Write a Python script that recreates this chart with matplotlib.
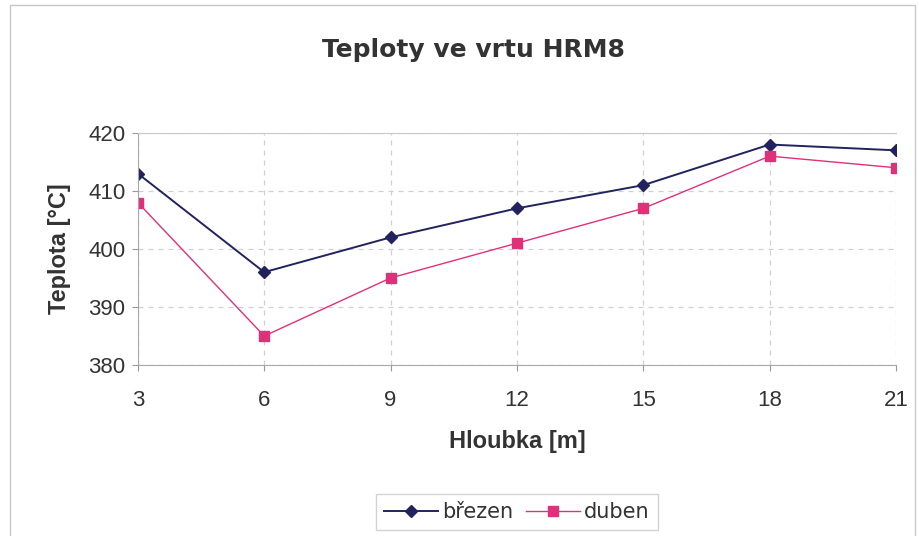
import matplotlib.pyplot as plt
from matplotlib.patches import Rectangle

hloubka = [3, 6, 9, 12, 15, 18, 21]
brezen = [413, 396, 402, 407, 411, 418, 417]
duben = [408, 385, 395, 401, 407, 416, 414]

plt.rcParams['font.family'] = ['Liberation Sans', 'DejaVu Sans']

fig = plt.figure(figsize=(9.19, 5.36), dpi=100)
ax = fig.add_axes([0.150, 0.319, 0.825, 0.433])

# rameček kolem celého grafu
fig.patches.append(Rectangle((0.011, -0.01), 0.985, 1.0, transform=fig.transFigure,
                             fill=False, edgecolor="#c8c8c8", linewidth=1))

ax.plot(hloubka, brezen, color="#22225e", marker="D", markersize=6.5,
        linewidth=1.4, label="březen")
ax.plot(hloubka, duben, color="#e0307a", marker="s", markersize=6.5,
        linewidth=1.0, label="duben")

ax.set_xlim(3, 21)
ax.set_ylim(380, 420)
ax.set_xticks(hloubka)
ax.set_yticks(range(380, 421, 10))
ax.tick_params(labelsize=16, length=4, color="#999999", labelcolor="#333333")
ax.tick_params(axis="x", pad=14)
ax.tick_params(axis="y", pad=5)

ax.grid(True, linestyle=(0, (4, 4)), color="#d0d0d0", linewidth=0.9)
for s in ax.spines.values():
    s.set_color("#a8a8a8")
ax.spines["top"].set_color("#c8c8c8")
ax.spines["right"].set_visible(False)

fig.text(473 / 919, 1 - 50 / 536, "Teploty ve vrtu HRM8", fontsize=18,
         fontweight="bold", color="#333333", ha="center", va="center",
         family=["DejaVu Sans"])
ax.set_xlabel("Hloubka [m]", fontsize=17, fontweight="bold", color="#333333", labelpad=14)
ax.set_ylabel("Teplota [°C]", fontsize=17, fontweight="bold", color="#333333", labelpad=12)

leg = fig.legend(loc="center", bbox_to_anchor=(517 / 919, 1 - 512 / 536), ncol=2,
                 prop={"family": "DejaVu Sans", "size": 15},
                 frameon=True, fancybox=False, edgecolor="#c8c8c8",
                 handlelength=2.6, columnspacing=0.6, handletextpad=0.2,
                 borderpad=0.4)
for t in leg.get_texts():
    t.set_color("#333333")

fig.savefig("out.png", dpi=100)
